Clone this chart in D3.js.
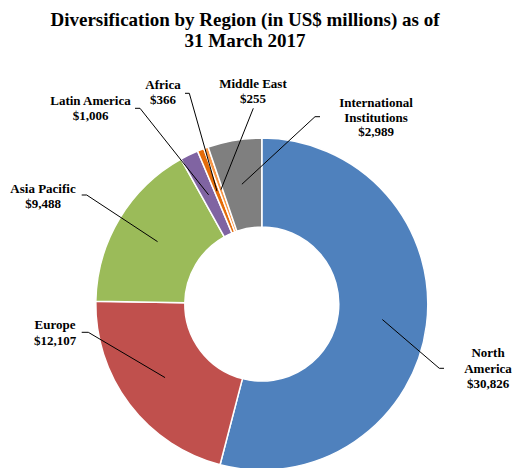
<!DOCTYPE html>
<html>
<head>
<meta charset="utf-8">
<script src="https://cdn.jsdelivr.net/npm/d3@7"></script>
<style>
  html, body { margin: 0; padding: 0; background: #fff; }
  svg { display: block; font-family: "Liberation Serif", "Times New Roman", Times, serif; }
</style>
</head>
<body>
<svg id="chart" width="514" height="468"></svg>
<script>
// ---- data ----
const categories = ["North America", "Europe", "Asia Pacific", "Latin America", "Africa", "Middle East", "International Institutions"];
const values = [30826, 12107, 9488, 1006, 366, 255, 2989];
const valueLabels = ["$30,826", "$12,107", "$9,488", "$1,006", "$366", "$255", "$2,989"];
const labelLines = [["North", "America"], ["Europe"], ["Asia Pacific"], ["Latin America"], ["Africa"], ["Middle East"], ["International", "Institutions"]];
const colors = ["#4F81BD", "#C0504D", "#9BBB59", "#8064A2", "#E46C0A", "#F79646", "#7F7F7F"];
const titleLines = ["Diversification by Region (in US$ millions) as of", "31 March 2017"];

// ---- layout (label placement, not data) ----
const cx = 261.8, cy = 304.1, rOuter = 166, rInner = 77;
const labelLayout = [
  { x: 488, y: 357, lh: 15.5, lead: [444, 368.3], stub: 439.3 },
  { x: 55,  y: 329, lh: 16,   lead: [81.7, 332.3], stub: 88.3 },
  { x: 43,  y: 193, lh: 15,   lead: [81.7, 195], stub: 86.7 },
  { x: 90.5,y: 105, lh: 14.5, lead: [135, 108.3], stub: 140 },
  { x: 163, y: 89,  lh: 15,   lead: [185, 93.3], stub: 189.3 },
  { x: 253, y: 88,  lh: 14.5, lead: [253.3, 108.3], stub: null },
  { x: 376, y: 107, lh: 14.7, lead: [320, 116.7], stub: 315 }
];

const svg = d3.select("#chart");

// title
svg.append("text")
  .attr("x", 245).attr("text-anchor", "middle")
  .attr("font-weight", "bold").attr("font-size", 19).attr("fill", "#000")
  .selectAll("tspan").data(titleLines).join("tspan")
  .attr("x", 245).attr("y", (d, i) => 26 + i * 20.7).text(d => d);

const data = categories.map((c, i) => ({ name: c, value: values[i], i }));
const pie = d3.pie().value(d => d.value).sort(null).startAngle(0).endAngle(2 * Math.PI);
const arcs = pie(data);
const arc = d3.arc().innerRadius(rInner).outerRadius(rOuter);

const g = svg.append("g").attr("transform", `translate(${cx},${cy})`);
g.selectAll("path").data(arcs).join("path")
  .attr("d", arc)
  .attr("fill", d => colors[d.data.i])
  .attr("stroke", "#fff").attr("stroke-width", 1.5).attr("stroke-linejoin", "round");

// leader lines
arcs.forEach(d => {
  const L = labelLayout[d.data.i];
  const c = arc.centroid(d);
  const px = cx + c[0], py = cy + c[1];
  const pts = [];
  pts.push(L.lead);
  if (L.stub !== null) pts.push([L.stub, L.lead[1]]);
  pts.push([px, py]);
  svg.append("path")
    .attr("d", d3.line()(pts))
    .attr("fill", "none").attr("stroke", "#000").attr("stroke-width", 1);
});

// labels
arcs.forEach(d => {
  const L = labelLayout[d.data.i];
  const lines = labelLines[d.data.i].concat([valueLabels[d.data.i]]);
  svg.append("text")
    .attr("text-anchor", "middle").attr("font-weight", "bold").attr("font-size", 13).attr("fill", "#000")
    .selectAll("tspan").data(lines).join("tspan")
    .attr("x", L.x).attr("y", (t, k) => L.y + k * L.lh).text(t => t);
});
</script>
</body>
</html>
